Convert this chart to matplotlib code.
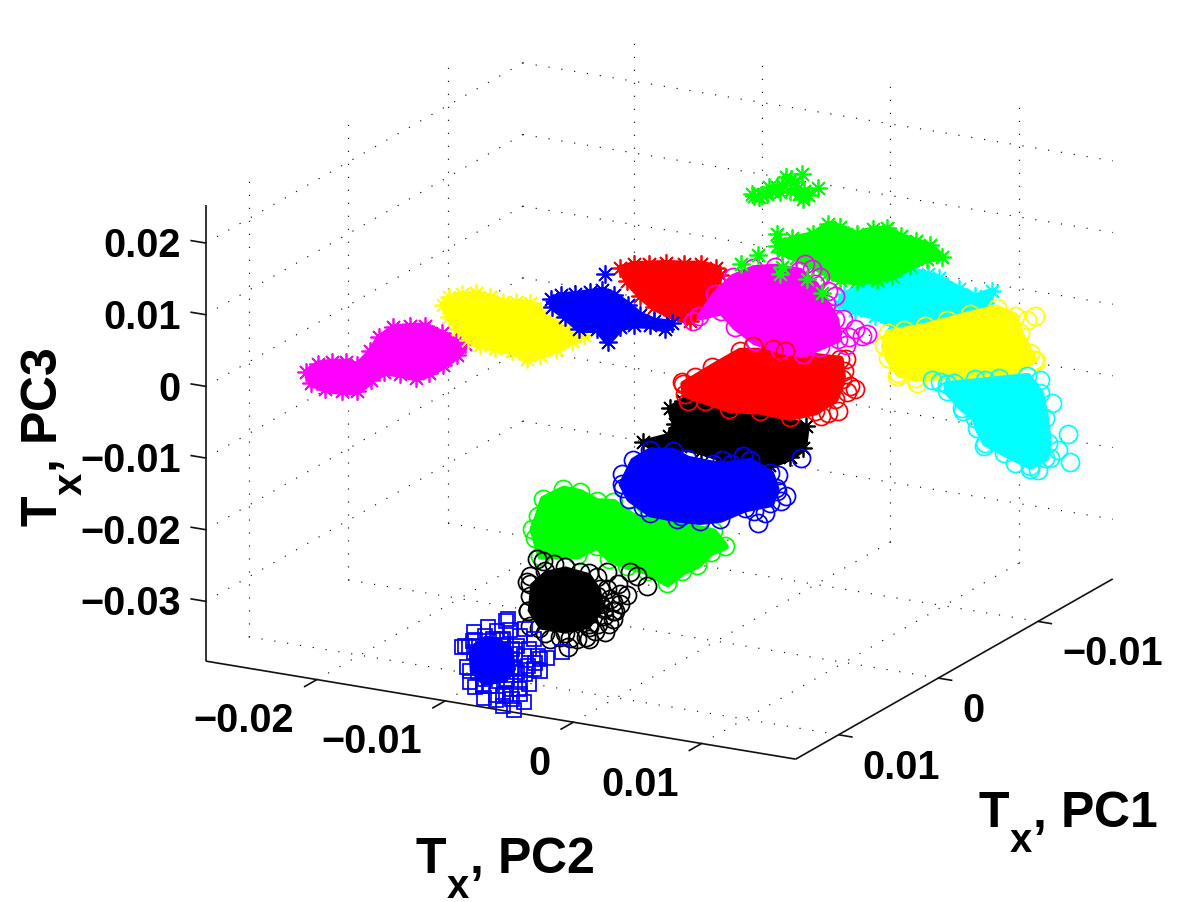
import numpy as np
import matplotlib
matplotlib.use("Agg")
import matplotlib.pyplot as plt
import matplotlib._mathtext as mt
from mpl_toolkits.mplot3d import proj3d
from mpl_toolkits.mplot3d.art3d import Poly3DCollection

plt.rcParams['font.family'] = ['Liberation Sans', 'DejaVu Sans']
plt.rcParams['font.weight'] = 'bold'
plt.rcParams['mathtext.fontset'] = 'custom'
plt.rcParams['mathtext.rm'] = 'Liberation Sans:bold'
plt.rcParams['mathtext.bf'] = 'Liberation Sans:bold'
plt.rcParams['mathtext.it'] = 'Liberation Sans:bold'
# larger, lower subscript as in the reference labels
mt.SHRINK_FACTOR = 0.8
mt.FontConstantsBase.sub1 = 0.95

# ---- data, scores in units of 1e-4 ----
UNIT = 1e-4
PC1_TICKS = [-0.01, 0, 0.01]
PC2_TICKS = [-0.02, -0.01, 0, 0.01]
PC3_TICKS = [-0.03, -0.02, -0.01, 0, 0.01, 0.02]
PC1_LIM = (-0.0175, 0.0143)
PC2_LIM = (-0.02867, 0.01734)
PC3_LIM = (-0.03834, 0.02533)

magenta_star_pc1 = 60
magenta_star_pc2 = [-273,-264,-253,-242,-233,-223,-216,-205,-192,-180,-167,-156,-149,-155,-166,-177,-187,-200,-212,-222,-233,-245,-258,-269]
magenta_star_pc3 = [-41,-27,-21,-18,-20,2,24,41,47,51,44,36,34,17,0,-15,-24,-22,-23,-37,-56,-60,-61,-56]

yellow_star_pc1 = 40
yellow_star_pc2 = [-182,-177,-167,-156,-145,-135,-125,-114,-106,-97,-86,-72,-81,-94,-106,-116,-128,-141,-153,-162,-170,-177]
yellow_star_pc3 = [63,76,83,87,86,82,85,86,77,66,58,54,43,28,16,7,15,15,16,21,33,48]

red_star_pc1 = 0
red_star_pc2 = [-75,-64,-52,-39,-25,-12,0,3,-3,-12,-20,-34,-48,-59,-69]
red_star_pc3 = [115,124,128,133,136,140,138,129,106,76,57,61,68,81,98]

blue_star_pc1 = 20
blue_star_pc2 = [-113,-105,-94,-83,-73,-64,-53,-44,-33,-19,-24,-36,-48,-59,-69,-77,-91,-102,-112]
blue_star_pc3 = [76,84,89,95,101,97,86,75,70,71,61,63,60,53,30,45,41,55,66]
blue_lone_pc2 = [-71]
blue_lone_pc3 = [124]

green_top_pc1 = -100
green_top_pc2 = [-50,-48,-44,-38,-34,-30,-28,-23,-19,-16,-11,-13,-9,-10,2,-42,-26,-20,-14,-36,-6]
green_top_pc3 = [147,144,144,150,156,163,156,179,177,173,186,157,163,151,170,148,167,160,166,160,158]

green_star_pc1 = -60
green_star_pc2 = [1,1,13,29,41,50,63,76,87,98,109,120,130,118,105,91,79,63,50,40,29,16,5]
green_star_pc3 = [138,121,135,146,164,162,156,167,171,163,160,157,144,138,124,106,97,90,88,94,102,108,114]
green_late_pc2 = [-14,-27,3,5,24,36]
green_late_pc3 = [104,87,83,93,82,65]

cyan_star_pc1 = -80
cyan_star_pc2 = [38,66,91,103,112,127,140,153,148,120,93,76,62,46,34]
cyan_star_pc3 = [49,79,98,96,93,83,76,88,69,43,26,18,25,29,34]

black_star_pc1 = 0
black_star_pc2 = [-36,-26,-5,19,42,70,68,58,41,23,3,-12,-28,-44,-57,-37,-32]
black_star_pc3 = [-69,-56,-47,-47,-54,-63,-93,-109,-126,-130,-126,-122,-120,-126,-123,-108,-90]

green_circle_pc1 = 40
green_circle_pc2 = [-108,-104,-88,-75,-62,-49,-34,-15,9,29,38,27,16,5,-7,-23,-38,-52,-62,-77,-106,-110,-112]
green_circle_pc3 = [-209,-184,-165,-166,-175,-172,-187,-189,-188,-190,-208,-219,-241,-253,-273,-261,-258,-252,-237,-255,-264,-241,-228]

blue_circle_pc1 = 20
blue_circle_pc2 = [-49,-36,-18,-7,13,27,42,58,62,58,38,19,3,-15,-36,-52,-58]
blue_circle_pc3 = [-130,-112,-107,-115,-116,-112,-103,-116,-136,-158,-171,-191,-199,-201,-200,-184,-165]
blue_stray_pc2 = [48,45,54,66,70,63,82,64,37,20,-41,-12,-58,-57]
blue_stray_pc3 = [-189,-173,-173,-153,-144,-140,-88,-117,-98,-109,-192,-196,-151,-171]

red_circle_pc1 = -20
red_circle_pc2 = [-41,-32,-19,3,30,50,81,83,77,62,42,19,-5,-24,-40]
red_circle_pc3 = [-52,-40,-22,7,15,16,19,-9,-38,-60,-74,-72,-77,-71,-66]
red_stray_pc2 = [84,86,93,89,87,80,72,66,-37,-42]
red_stray_pc3 = [3,20,-20,-17,-26,-54,-59,-65,-75,-50]
red_top_pc2 = [13,29,38]
red_top_pc3 = [16,17,17]

magenta_circle_pc1 = -40
magenta_circle_pc2 = [-44,-32,-18,-2,15,34,46,55,62,64,50,37,19,-1,-16,-27]
magenta_circle_pc3 = [25,60,88,105,112,112,97,72,53,26,11,-3,-3,3,19,37]
magenta_stray_pc2 = [87,83,77,73,70,68,62,38,44,50,56,-49]
magenta_stray_pc3 = [40,36,44,31,19,55,85,123,117,108,90,17]

yellow_circle_pc1 = -140
yellow_circle_pc2 = [25,38,54,71,89,110,124,128,136,139,122,97,71,46,33,25,22]
yellow_circle_pc3 = [-56,-48,-38,-25,-11,4,-3,-26,-51,-60,-83,-95,-103,-113,-110,-91,-75]
yellow_stray_pc2 = [140,134,141,32,48]
yellow_stray_pc3 = [1,-6,-61,-114,-119]

cyan_circle_pc1 = -140
cyan_circle_pc2 = [71,101,134,144,148,150,148,136,116,101,95,93,83,71]
cyan_circle_pc3 = [-114,-100,-84,-105,-139,-173,-194,-209,-197,-187,-168,-155,-144,-124]
cyan_stray_pc2 = [60,66,77,93,112,144,153,166,167,158,152,142,136,124,100,84]
cyan_stray_pc3 = [-112,-113,-111,-101,-93,-87,-116,-156,-195,-180,-193,-213,-214,-208,-192,-148]

black_circle_pc1 = 60
black_circle_pc2 = [-98,-87,-71,-52,-44,-41,-52,-71,-91,-100]
black_circle_pc3 = [-285,-264,-253,-257,-276,-303,-331,-345,-345,-323]
black_stray_pc2 = [-88,-98,-101,-93,-80,-59,-46,-38,-30,-23,-34,-34,-40,-52,-69,-62,-75,-87,-98,-100,-98,-41,-46,-38,-20,-7,-15,-44,-32,-52,-34,-45,-55,-67,-83,-28,-37,-48,-28,-36]
black_stray_pc3 = [-250,-274,-283,-249,-252,-257,-260,-251,-265,-279,-291,-315,-335,-348,-364,-351,-352,-351,-344,-323,-302,-313,-286,-274,-245,-261,-249,-297,-303,-327,-304,-325,-346,-352,-357,-292,-323,-336,-278,-288]

square_pc1 = 140
square_pc2 = [-84,-71,-59,-50,-48,-55,-73,-83]
square_pc3 = [-306,-286,-288,-299,-326,-345,-355,-339]
square_stray_pc2 = [-53,-55,-80,-69,-87,-81,-89,-85,-83,-79,-72,-57,-49,-41,-57,-37,-28,-23,-11,-33,-44,-30,-33,-44,-51,-67,-73,-75,-67,-59,-69,-77,-51,-41,-46,-62,-57,-46,-65,-80,-72,-54,-38,-55,-48,-37,-59,-50,-40,-32,-45,-55,-63,-71,-77,-79,-62,-52,-40,-63,-50,-44,-28]
square_stray_pc3 = [-258,-261,-284,-274,-306,-297,-308,-334,-354,-360,-374,-380,-383,-370,-366,-344,-323,-303,-291,-280,-279,-303,-322,-343,-355,-355,-357,-316,-308,-297,-328,-339,-313,-306,-330,-334,-287,-293,-289,-312,-306,-342,-319,-301,-305,-295,-316,-324,-331,-312,-353,-363,-366,-347,-328,-294,-277,-272,-268,-373,-368,-360,-306]

fig = plt.figure(figsize=(12, 9.03), dpi=100, facecolor='white')
ax = fig.add_axes([0.1, 0.1, 0.8, 0.8], projection='3d')
ax.set_proj_type('ortho')
ax.view_init(elev=17.9, azim=28.4)
ax.set_box_aspect((666, 670, 479))
ax.set_xlim(*PC1_LIM); ax.set_ylim(*PC2_LIM); ax.set_zlim(*PC3_LIM)
ax.set_axis_off()
ax.computed_zorder = False
ax.patch.set_alpha(0)


def fit_axes():
    """Scale the 3D axes so its box spans the intended part of the figure."""
    M = ax.get_proj()
    cs = [(PC1_LIM[1], PC2_LIM[0], PC3_LIM[0]), (PC1_LIM[0], PC2_LIM[1], PC3_LIM[0]),
          (PC1_LIM[1], PC2_LIM[1], PC3_LIM[0]), (PC1_LIM[1], PC2_LIM[0], PC3_LIM[1])]
    want = np.array([(206, 241), (1113, 322), (795, 143), (206, 698)], float)
    ax.apply_aspect()
    xs, ys, _ = proj3d.proj_transform(*np.array(cs).T, M)
    got = ax.transData.transform(np.column_stack([xs, ys]))
    s = (want[1, 0] - want[0, 0]) / (got[1, 0] - got[0, 0])
    p = ax.get_position()
    W = p.width * 1200 * s
    L = p.x0 * 1200; B = p.y0 * 903
    new_got = (got - [L, B]) * s
    off = (want - new_got).mean(axis=0)
    ax.set_position([off[0] / 1200, off[1] / 903, W / 1200, W / 903])
    ax.apply_aspect()


fit_axes()

STAR = (8, 2, 0)
EDGE = 1.25
SIZE = 13
z = [10]


def cluster(pc1, pc2, pc3, color, marker, fill=True, size=SIZE, grow=5):
    x = np.full(len(pc2), pc1 * UNIT)
    y = np.array(pc2) * UNIT
    zz = np.array(pc3) * UNIT
    z[0] += 1
    if fill:
        poly = Poly3DCollection([list(zip(x, y, zz))], facecolors=color, edgecolors=color,
                                linewidths=grow, joinstyle='round', zorder=z[0])
        ax.add_collection3d(poly, autolim=False)
    ax.plot(x, y, zz, ls='none', marker=marker, mfc='none', mec=color, mew=EDGE, ms=size,
            zorder=z[0] + 0.5, clip_on=False)


cluster(magenta_star_pc1, magenta_star_pc2, magenta_star_pc3, '#ff00ff', STAR)
cluster(yellow_star_pc1, yellow_star_pc2, yellow_star_pc3, '#ffff00', STAR)
cluster(red_star_pc1, red_star_pc2, red_star_pc3, '#ff0000', STAR)
cluster(blue_star_pc1, blue_star_pc2, blue_star_pc3, '#0000ff', STAR)
cluster(blue_star_pc1, blue_lone_pc2, blue_lone_pc3, '#0000ff', STAR, fill=False)
cluster(cyan_star_pc1, cyan_star_pc2, cyan_star_pc3, '#00ffff', STAR)
cluster(green_top_pc1, green_top_pc2, green_top_pc3, '#00ff00', STAR, fill=False)
cluster(green_star_pc1, green_star_pc2, green_star_pc3, '#00ff00', STAR)
cluster(black_star_pc1, black_star_pc2, black_star_pc3, '#000000', STAR)
cluster(green_circle_pc1, green_circle_pc2, green_circle_pc3, '#00ff00', 'o')
cluster(blue_circle_pc1, blue_circle_pc2, blue_circle_pc3, '#0000ff', 'o')
cluster(blue_circle_pc1, blue_stray_pc2, blue_stray_pc3, '#0000ff', 'o', fill=False)
cluster(red_circle_pc1, red_circle_pc2, red_circle_pc3, '#ff0000', 'o')
cluster(red_circle_pc1, red_stray_pc2, red_stray_pc3, '#ff0000', 'o', fill=False)
cluster(magenta_circle_pc1, magenta_circle_pc2, magenta_circle_pc3, '#ff00ff', 'o')
cluster(magenta_circle_pc1, magenta_stray_pc2, magenta_stray_pc3, '#ff00ff', 'o', fill=False)
cluster(red_circle_pc1, red_top_pc2, red_top_pc3, '#ff0000', 'o', fill=False)
cluster(green_star_pc1, green_late_pc2, green_late_pc3, '#00ff00', STAR, fill=False)
cluster(yellow_circle_pc1, yellow_circle_pc2, yellow_circle_pc3, '#ffff00', 'o')
cluster(yellow_circle_pc1, yellow_stray_pc2, yellow_stray_pc3, '#ffff00', 'o', fill=False)
cluster(cyan_circle_pc1, cyan_circle_pc2, cyan_circle_pc3, '#00ffff', 'o')
cluster(cyan_circle_pc1, cyan_stray_pc2, cyan_stray_pc3, '#00ffff', 'o', fill=False)
cluster(black_circle_pc1, black_circle_pc2, black_circle_pc3, '#000000', 'o', grow=1)
cluster(black_circle_pc1, black_stray_pc2, black_stray_pc3, '#000000', 'o', fill=False)
cluster(square_pc1, square_pc2, square_pc3, '#0000ff', 's', size=10.5, grow=1)
cluster(square_pc1, square_stray_pc2, square_stray_pc3, '#0000ff', 's', fill=False, size=10.5)

# dotted grid on the floor and the two back walls
xmin, xmax = PC1_LIM; ymin, ymax = PC2_LIM; zmin, zmax = PC3_LIM
grid = dict(color='#111111', lw=0.85, ls=(0, (1, 10)), zorder=1)
for t in PC1_TICKS:
    ax.plot([t, t], [ymin, ymax], [zmin, zmin], **grid)
    ax.plot([t, t], [ymin, ymin], [zmin, zmax], **grid)
for t in PC2_TICKS:
    ax.plot([xmin, xmax], [t, t], [zmin, zmin], **grid)
    ax.plot([xmin, xmin], [t, t], [zmin, zmax], **grid)
for t in PC3_TICKS:
    ax.plot([xmin, xmin], [ymin, ymax], [t, t], **grid)
    ax.plot([xmin, xmax], [ymin, ymin], [t, t], **grid)

# axis lines, ticks and tick labels
line = dict(color='#111111', lw=1.2, zorder=2, solid_capstyle='butt')
ax.plot([xmax, xmax], [ymin, ymax], [zmin, zmin], **line)
ax.plot([xmin, xmax], [ymax, ymax], [zmin, zmin], **line)
ax.plot([xmax, xmax], [ymin, ymin], [zmin, zmax], **line)


def fmt(v):
    return '0' if v == 0 else ('%g' % abs(v) if v > 0 else '\u2212%g' % abs(v))


TICK_FS = 28.5


def tick_label(x, y, zv, s, ha):
    """Put a tick label at the projected place of a 3D anchor."""
    px, py, _ = proj3d.proj_transform(x, y, zv, ax.get_proj())
    fx, fy = ax.transData.transform((px, py))
    fig.text(fx / 1200, fy / 903, s, ha=ha, va='center', fontsize=TICK_FS, fontweight='bold')


for t in PC1_TICKS:
    ax.plot([t, t], [ymax, ymax + 0.0011], [zmin, zmin], **line)
    tick_label(t, ymax + 0.001875, zmin - 0.00390, fmt(t), 'left')
for t in PC2_TICKS:
    ax.plot([xmax, xmax + 0.0013], [t, t], [zmin, zmin], **line)
    tick_label(xmax, t - 0.0018, zmin - 0.00617, fmt(t), 'right')
for t in PC3_TICKS:
    ax.plot([xmax, xmax], [ymin, ymin - 0.0012], [t, t], **line)
    tick_label(xmax, ymin - 0.00195, t - 0.00088, fmt(t), 'right')

LABEL_FS = 36
fig.text(415 / 1200, 1 - 873 / 903, r'T$_{\mathbf{x}}$, PC2', fontsize=LABEL_FS, fontweight='bold', ha='left', va='baseline')
fig.text(978 / 1200, 1 - 827 / 903, r'T$_{\mathbf{x}}$, PC1', fontsize=LABEL_FS, fontweight='bold', ha='left', va='baseline')
fig.text(57 / 1200, 1 - 527 / 903, r'T$_{\mathbf{x}}$, PC3', fontsize=LABEL_FS, fontweight='bold', ha='left', va='baseline',
         rotation=90, rotation_mode='anchor')

fig.savefig('out.png', dpi=100, facecolor='white')
